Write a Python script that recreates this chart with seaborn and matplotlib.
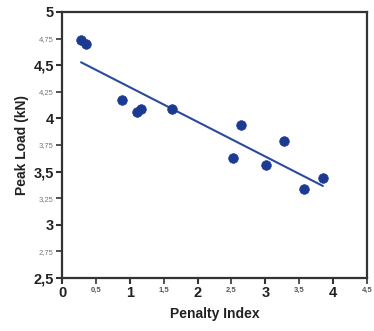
import matplotlib
matplotlib.use("Agg")
import matplotlib.pyplot as plt
import seaborn as sns
import pandas as pd

penalty_index = [0.28, 0.36, 0.88, 1.10, 1.16, 1.62, 2.53, 2.64, 3.01, 3.28, 3.57, 3.85]
peak_load = [4.74, 4.70, 4.17, 4.06, 4.09, 4.085, 3.63, 3.935, 3.565, 3.79, 3.335, 3.44]
fit_x = [0.28, 3.85]
fit_y = [4.527, 3.365]

x_major = [0, 1, 2, 3, 4]
x_major_labels = ["0", "1", "2", "3", "4"]
x_minor = [0.5, 1.5, 2.5, 3.5, 4.5]
x_minor_labels = ["0,5", "1,5", "2,5", "3,5", "4,5"]
y_major = [2.5, 3, 3.5, 4, 4.5, 5]
y_major_labels = ["2,5", "3", "3,5", "4", "4,5", "5"]
y_minor = [2.75, 3.25, 3.75, 4.25, 4.75]
y_minor_labels = ["2,75", "3,25", "3,75", "4,25", "4,75"]

sns.set_style("white")
plt.rcParams["font.family"] = ["Liberation Sans", "DejaVu Sans"]

df = pd.DataFrame({"x": penalty_index, "y": peak_load})
fit = pd.DataFrame({"x": fit_x, "y": fit_y})

fig = plt.figure(figsize=(3.74, 3.31), dpi=100)
ax = fig.add_axes([0.166, 0.160, 0.815, 0.804])

sns.lineplot(data=fit, x="x", y="y", ax=ax, color="#2b4a9b", linewidth=1.5)
sns.scatterplot(data=df, x="x", y="y", ax=ax, color="#1c3a92", s=48,
                edgecolor="#1c3a92", linewidth=0.5, zorder=3)

ax.set_xlim(0, 4.5)
ax.set_ylim(2.5, 5)
ax.set_xticks(x_major, x_major_labels)
ax.set_xticks(x_minor, x_minor_labels, minor=True)
ax.set_yticks(y_major, y_major_labels)
ax.set_yticks(y_minor, y_minor_labels, minor=True)

ax.tick_params(axis="both", which="major", direction="out", length=4, width=1.5,
               color="#333333", labelsize=10.5, labelcolor="#222222", pad=2)
ax.tick_params(axis="both", which="minor", direction="out", length=4, width=1.2,
               color="#333333", labelsize=5.5, labelcolor="#666666", pad=2)
ax.tick_params(axis="x", which="both", bottom=True)
ax.tick_params(axis="y", which="both", left=True)
for lbl in ax.get_xticklabels() + ax.get_yticklabels():
    lbl.set_fontweight("bold")
for lbl in ax.get_xticklabels(minor=True):
    lbl.set_fontweight("bold")
    lbl.set_color("#555555")
for lbl in ax.get_yticklabels(minor=True):
    lbl.set_color("#777777")

for sp in ax.spines.values():
    sp.set_color("#333333")
    sp.set_linewidth(1.6)

ax.set_xlabel("Penalty Index", fontsize=10, fontweight="bold", color="#222222", labelpad=5)
ax.set_ylabel("Peak Load (kN)", fontsize=10, fontweight="bold", color="#222222", labelpad=3)

fig.savefig("out.png", dpi=100)
